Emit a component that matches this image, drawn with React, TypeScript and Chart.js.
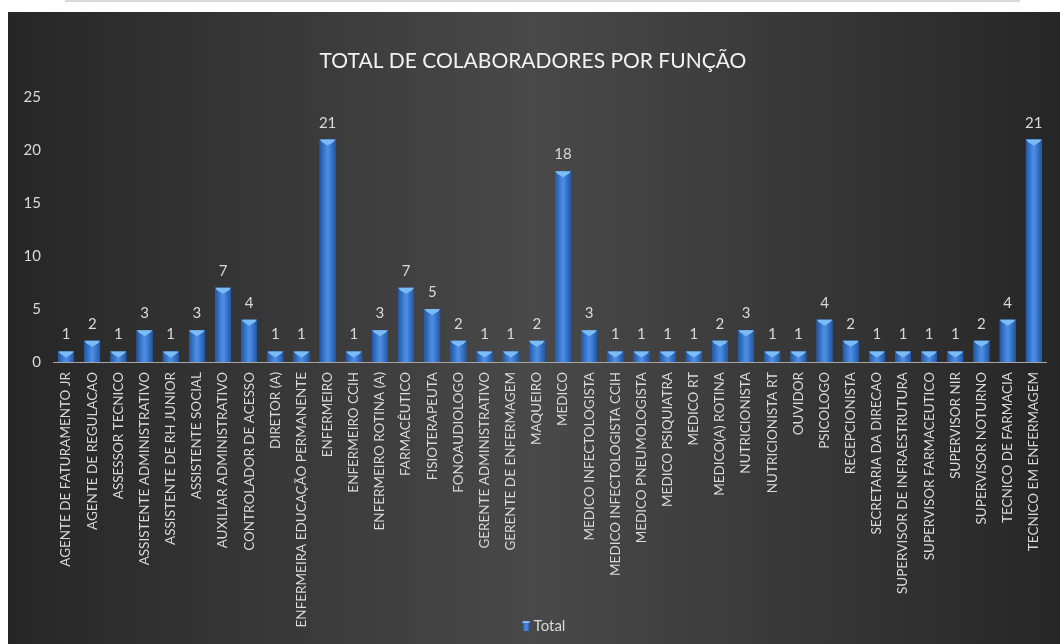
import { useEffect, useRef } from "react";
import { Chart, registerables } from "chart.js";

Chart.register(...registerables);

const FONT = "Lato, 'Open Sans', sans-serif";

const chartTitle = "TOTAL DE COLABORADORES POR FUNÇÃO";
const seriesName = "Total";

const categories = [
  "AGENTE DE FATURAMENTO JR",
  "AGENTE DE REGULACAO",
  "ASSESSOR TECNICO",
  "ASSISTENTE ADMINISTRATIVO",
  "ASSISTENTE DE RH JUNIOR",
  "ASSISTENTE SOCIAL",
  "AUXILIAR ADMINISTRATIVO",
  "CONTROLADOR DE ACESSO",
  "DIRETOR (A)",
  "ENFERMEIRA EDUCAÇÃO PERMANENTE",
  "ENFERMEIRO",
  "ENFERMEIRO CCIH",
  "ENFERMEIRO ROTINA (A)",
  "FARMACÊUTICO",
  "FISIOTERAPEUTA",
  "FONOAUDIOLOGO",
  "GERENTE ADMINISTRATIVO",
  "GERENTE DE ENFERMAGEM",
  "MAQUEIRO",
  "MEDICO",
  "MEDICO INFECTOLOGISTA",
  "MEDICO INFECTOLOGISTA CCIH",
  "MEDICO PNEUMOLOGISTA",
  "MEDICO PSIQUIATRA",
  "MEDICO RT",
  "MEDICO(A) ROTINA",
  "NUTRICIONISTA",
  "NUTRICIONISTA RT",
  "OUVIDOR",
  "PSICOLOGO",
  "RECEPCIONISTA",
  "SECRETARIA DA DIRECAO",
  "SUPERVISOR DE INFRAESTRUTURA",
  "SUPERVISOR FARMACEUTICO",
  "SUPERVISOR NIR",
  "SUPERVISOR NOTURNO",
  "TECNICO DE FARMACIA",
  "TECNICO EM ENFERMAGEM",
];

const totals = [
  1, 2, 1, 3, 1, 3, 7, 4, 1, 1, 21, 1, 3, 7, 5, 2, 1, 1, 2, 18, 3, 1, 1, 1, 1,
  2, 3, 1, 1, 4, 2, 1, 1, 1, 1, 2, 4, 21,
];

const yMin = 0;
const yMax = 25;
const yStep = 5;

const backgroundPlugin = {
  id: "excelBackground",
  beforeDraw(chart: any) {
    const { ctx, width, height } = chart;
    ctx.save();
    const g = ctx.createLinearGradient(0, 0, width, 0);
    g.addColorStop(0, "#262626");
    g.addColorStop(0.5, "#494949");
    g.addColorStop(1, "#262626");
    ctx.fillStyle = g;
    ctx.fillRect(0, 0, width, height);
    ctx.restore();
  },
};

function barGradient(ctx: CanvasRenderingContext2D, left: number, right: number) {
  const g = ctx.createLinearGradient(left, 0, right, 0);
  g.addColorStop(0, "#2256a6");
  g.addColorStop(0.45, "#4a8ce2");
  g.addColorStop(0.55, "#4a8ce2");
  g.addColorStop(1, "#2256a6");
  return g;
}

const barStylePlugin = {
  id: "barStyle",
  afterDatasetDraw(chart: any, args: any) {
    const { ctx } = chart;
    const meta = args.meta;
    ctx.save();
    meta.data.forEach((bar: any) => {
      const { x, y, base, width } = bar.getProps(["x", "y", "base", "width"], true);
      const left = x - width / 2;
      const right = x + width / 2;
      const h = base - y;
      ctx.fillStyle = barGradient(ctx, left, right);
      ctx.fillRect(left, y, width, h);
      const bev = Math.min(6, h);
      ctx.fillStyle = "#7cbcf6";
      ctx.beginPath();
      ctx.moveTo(left, y);
      ctx.lineTo(right, y);
      ctx.lineTo(right - 2, y + bev * 0.4);
      ctx.lineTo(x, y + bev);
      ctx.lineTo(left + 2, y + bev * 0.4);
      ctx.closePath();
      ctx.fill();
    });
    ctx.restore();
  },
};

const dataLabelPlugin = {
  id: "dataLabels",
  afterDatasetsDraw(chart: any) {
    const { ctx } = chart;
    const meta = chart.getDatasetMeta(0);
    const values = chart.data.datasets[0].data;
    ctx.save();
    ctx.fillStyle = "#d9d9d9";
    ctx.font = `15px ${FONT}`;
    ctx.textAlign = "center";
    ctx.textBaseline = "alphabetic";
    meta.data.forEach((bar: any, i: number) => {
      const { x, y } = bar.getProps(["x", "y"], true);
      ctx.fillText(String(values[i]), x, y - 12);
    });
    ctx.restore();
  },
};

const legendPlugin = {
  id: "bottomLegend",
  afterDraw(chart: any) {
    const { ctx, width, height } = chart;
    const label = chart.data.datasets[0].label;
    ctx.save();
    ctx.font = `15px ${FONT}`;
    const tw = ctx.measureText(label).width;
    const mw = 7;
    const mh = 10;
    const gap = 4;
    const total = mw + gap + tw;
    const cx = width / 2 + 10;
    const cy = height - 18;
    const x0 = cx - total / 2;
    ctx.fillStyle = barGradient(ctx, x0, x0 + mw);
    ctx.fillRect(x0, cy - mh / 2, mw, mh);
    ctx.fillStyle = "#7cbcf6";
    ctx.fillRect(x0, cy - mh / 2, mw, 2);
    ctx.fillStyle = "#d9d9d9";
    ctx.textAlign = "left";
    ctx.textBaseline = "middle";
    ctx.fillText(label, x0 + mw + gap, cy);
    ctx.restore();
  },
};

export default function App() {
  const canvasRef = useRef<HTMLCanvasElement | null>(null);

  useEffect(() => {
    if (!canvasRef.current) return;
    const chart = new Chart(canvasRef.current, {
      type: "bar",
      data: {
        labels: categories,
        datasets: [
          {
            label: seriesName,
            data: totals,
            backgroundColor: "#3d7fd8",
            borderWidth: 0,
            barPercentage: 0.6,
            categoryPercentage: 1,
          },
        ],
      },
      options: {
        animation: false,
        responsive: true,
        maintainAspectRatio: false,
        layout: { padding: { left: 0, right: 2, top: 0, bottom: 0 } },
        plugins: {
          title: {
            display: true,
            text: chartTitle,
            color: "#f2f2f2",
            font: { family: FONT, size: 21, weight: "normal" },
            padding: { top: 37, bottom: 23 },
          },
          legend: { display: false },
          tooltip: { enabled: false },
        },
        scales: {
          x: {
            grid: { display: false, drawTicks: false },
            border: { display: true, color: "#a6a6a6", width: 1 },
            ticks: {
              autoSkip: false,
              minRotation: 90,
              maxRotation: 90,
              color: "#d9d9d9",
              font: { family: FONT, size: 13.5 },
              padding: 10,
            },
            afterFit(scale: any) {
              scale.height = 282;
            },
          },
          y: {
            min: yMin,
            max: yMax,
            grid: { display: false, drawTicks: false },
            border: { display: false },
            ticks: {
              stepSize: yStep,
              color: "#d9d9d9",
              font: { family: FONT, size: 15 },
              padding: 12,
            },
            afterFit(scale: any) {
              scale.width = 45;
            },
          },
        },
      },
      plugins: [backgroundPlugin, barStylePlugin, dataLabelPlugin, legendPlugin],
    });
    return () => chart.destroy();
  }, []);

  return (
    <>
      <div
        style={{
          position: "absolute",
          left: 65,
          top: 0,
          width: 955,
          height: 2,
          background: "#d9d9d9",
        }}
      />
      <div
        style={{
          position: "absolute",
          left: 8,
          top: 12,
          width: 1052,
          height: 632,
        }}
      >
        <canvas ref={canvasRef} />
      </div>
    </>
  );
}
